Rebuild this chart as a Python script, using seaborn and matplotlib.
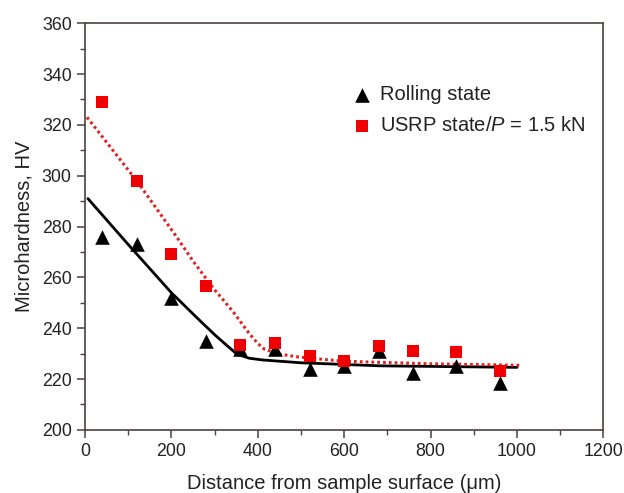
import numpy as np
import pandas as pd
import matplotlib
matplotlib.use("Agg")
import matplotlib.pyplot as plt
from matplotlib.ticker import MultipleLocator
import seaborn as sns

# measured points
depth = [40, 120, 200, 280, 360, 440, 520, 600, 680, 760, 860, 960]
hv_rolling = [276, 273, 252, 235, 232, 232, 224, 225, 231, 222.5, 225, 218.5]
hv_usrp = [329, 298, 269, 256.5, 233.5, 234, 229, 227, 233, 231, 230.5, 223]

# fitted curves
fit_x_rolling = [7, 100, 200, 260, 300, 330, 352, 380, 412, 500, 683, 1000]
fit_y_rolling = [291, 273, 254, 244, 237.5, 233, 229.8, 228.2, 227.5, 226.4, 225.2, 224.6]
fit_x_usrp = [5, 120, 212, 250, 296, 343, 380, 400, 415, 450, 498, 600, 800, 1010]
fit_y_usrp = [323, 298, 276, 266.5, 256, 246.5, 238, 234, 231.8, 229.8, 228.6, 227, 226, 225.4]

sns.set_style("ticks")
plt.rcParams['font.family'] = ['Liberation Sans', 'DejaVu Sans']
plt.rcParams['mathtext.fontset'] = 'custom'
plt.rcParams['mathtext.it'] = 'Liberation Sans:italic'
plt.rcParams['mathtext.rm'] = 'Liberation Sans'

fig = plt.figure(figsize=(6.24, 4.93), dpi=100)
ax = fig.add_axes([0.136, 0.128, 0.831, 0.825])

sns.lineplot(x=fit_x_rolling, y=fit_y_rolling, ax=ax, color='black', lw=2.0,
             sort=False, legend=False)
sns.lineplot(x=fit_x_usrp, y=fit_y_usrp, ax=ax, color='#e02020', lw=2.2,
             linestyle=(0, (0.9, 1.0)), sort=False, legend=False)

sns.scatterplot(x=depth, y=hv_rolling, ax=ax, marker='^', s=110, color='black',
                edgecolor='black', linewidth=0, label='Rolling state', zorder=5)
sns.scatterplot(x=depth, y=hv_usrp, ax=ax, marker='s', s=70, color='#f00000',
                edgecolor='#f00000', linewidth=0,
                label='USRP state/$P$ = 1.5 kN', zorder=6)

ax.set_xlim(0, 1200)
ax.set_ylim(200, 360)
ax.xaxis.set_major_locator(MultipleLocator(200))
ax.xaxis.set_minor_locator(MultipleLocator(100))
ax.yaxis.set_major_locator(MultipleLocator(20))
ax.yaxis.set_minor_locator(MultipleLocator(10))

spine_col = '#4a4040'
for s in ax.spines.values():
    s.set_color(spine_col)
    s.set_linewidth(1.2)
ax.tick_params(which='major', direction='out', length=6, width=1.1,
               color=spine_col, labelsize=12.8, labelcolor='#222222')
ax.tick_params(which='minor', direction='out', length=3.5, width=1.0,
               color=spine_col)

ax.set_xlabel('Distance from sample surface (\u03bcm)', fontsize=14.5,
              color='#222222', labelpad=10)
ax.set_ylabel('Microhardness, HV', fontsize=14.5, color='#222222', labelpad=6)

leg = ax.legend(loc='upper left', bbox_to_anchor=(0.5, 0.868), frameon=False,
                fontsize=14.5, handletextpad=0.4, labelspacing=0.6,
                handlelength=1.0, borderaxespad=0)
for t in leg.get_texts():
    t.set_color('#222222')

fig.savefig('out.png', dpi=100)
